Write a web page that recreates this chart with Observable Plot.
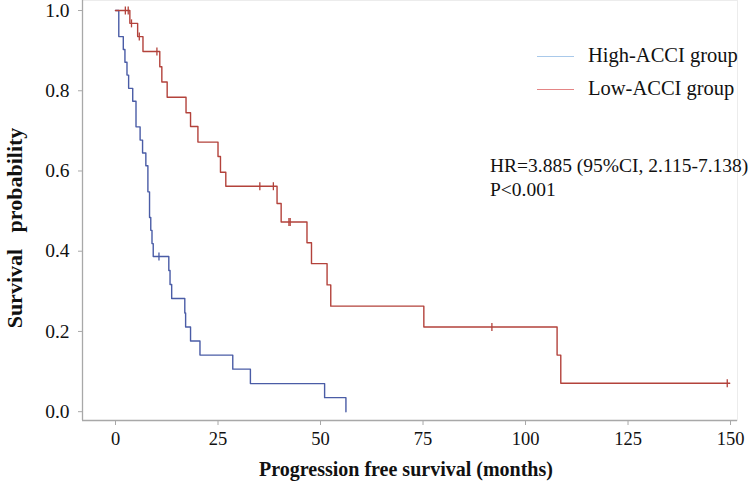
<!DOCTYPE html>
<html><head><meta charset="utf-8">
<script src="https://cdn.jsdelivr.net/npm/d3@7"></script>
<script src="https://cdn.jsdelivr.net/npm/@observablehq/plot@0.6"></script>
<style>
body{margin:0;background:#fff;}
#wrap{position:relative;width:750px;height:487px;font-family:"Liberation Serif","Times New Roman",serif;color:#111;}
.t{position:absolute;white-space:pre;font-size:19.5px;line-height:1;}
.ln{position:absolute;height:0;border-top:1.3px solid;}
</style></head><body>
<div id="wrap"></div>
<script>
// High-ACCI group: step times (months) and survival after each drop
const highTime = [0, 0.8, 1.9, 2.3, 2.8, 3.2, 4.2, 5.0, 6.0, 6.6, 7.4, 7.9, 8.3, 8.6, 8.9, 9.2, 13.0, 13.3, 13.7, 16.9, 17.1, 18.3, 20.6, 28.6, 32.9, 51.0, 56.2];
const highSurv = [1.0, 0.935, 0.903, 0.871, 0.839, 0.806, 0.774, 0.710, 0.677, 0.645, 0.613, 0.548, 0.484, 0.452, 0.419, 0.387, 0.352, 0.317, 0.282, 0.246, 0.211, 0.176, 0.141, 0.106, 0.070, 0.035, 0.0];
const highCensor = [10.6];

// Low-ACCI group
const lowTime = [0, 3.5, 5.4, 6.7, 10.8, 11.3, 12.6, 17.2, 18.3, 20.1, 25.0, 25.6, 26.9, 39.4, 40.4, 46.7, 47.8, 51.6, 52.5, 75.2, 107.7, 108.6, 149.8];
const lowSurv = [1.0, 0.968, 0.935, 0.898, 0.860, 0.822, 0.784, 0.745, 0.711, 0.672, 0.636, 0.597, 0.562, 0.519, 0.473, 0.421, 0.369, 0.316, 0.263, 0.211, 0.141, 0.071, 0.071];
const lowCensor = [2.4, 3.1, 3.9, 5.8, 10.1, 35.2, 38.5, 42.3, 42.6, 91.8, 149.2];

const xTicks = [0, 25, 50, 75, 100, 125, 150];
const yTicks = [0, 0.2, 0.4, 0.6, 0.8, 1.0];
const groups = ["High-ACCI group", "Low-ACCI group"];
const lineColors = ["#4a5ca6", "#b3423b"];
const legendColors = ["#a9c9ea", "#e48585"];
const hrLines = ["HR=3.885 (95%CI, 2.115-7.138)", "P<0.001"];
const xLabel = "Progression free survival (months)";
const yLabel = "Survival\u00a0\u00a0\u00a0probability";

const toRows = (ts, ss, g) => ts.map((t, i) => ({t, s: ss[i], g}));
const curves = [...toRows(highTime, highSurv, groups[0]), ...toRows(lowTime, lowSurv, groups[1])];
const survAt = (ts, ss, c) => ss[Math.max(0, d3.bisectRight(ts, c) - 1)];
const censors = [
  ...highCensor.map(t => ({t, s: survAt(highTime, highSurv, t), g: groups[0]})),
  ...lowCensor.map(t => ({t, s: survAt(lowTime, lowSurv, t), g: groups[1]}))
];
const vbar = {draw(ctx, size) { const h = Math.sqrt(size / Math.PI); ctx.moveTo(0, -h); ctx.lineTo(0, h); }};

const plot = Plot.plot({
  width: 750, height: 487,
  marginLeft: 82, marginRight: 13, marginTop: 0, marginBottom: 67,
  style: {fontFamily: "'Liberation Serif','Times New Roman',serif", fontSize: "18px", color: "#111", background: "#fff", overflow: "visible"},
  x: {domain: [-8.05, 151.7], label: null},
  y: {domain: [-0.022, 1.025], label: null},
  color: {domain: groups, range: lineColors},
  marks: [
    Plot.frame({stroke: "#ececec"}),
    Plot.ruleX([-8.05], {stroke: "#a8a8a8", strokeWidth: 1.3}),
    Plot.ruleY([-0.022], {stroke: "#a8a8a8", strokeWidth: 1.3}),
    Plot.axisX({ticks: xTicks, tickSize: 5, tickPadding: 6, fontSize: 18.5, label: null}),
    Plot.axisY({ticks: yTicks, tickSize: 4, tickPadding: 9, fontSize: 19.5, tickFormat: d3.format(".1f"), label: null}),
    Plot.line(curves, {x: "t", y: "s", z: "g", stroke: "g", curve: "step-after", strokeWidth: 1.4}),
    Plot.dot(censors, {x: "t", y: "s", stroke: "g", symbol: vbar, r: 4, strokeWidth: 1.3, fill: "none"})
  ]
});
plot.querySelectorAll('[aria-label="x-axis tick"], [aria-label="y-axis tick"]').forEach(g => g.setAttribute("stroke", "#a8a8a8"));

const wrap = document.getElementById("wrap");
wrap.appendChild(plot);

function addText(txt, x, y, extra) {
  const d = document.createElement("div");
  d.className = "t"; d.textContent = txt;
  d.style.left = x + "px"; d.style.top = y + "px";
  if (extra) Object.assign(d.style, extra);
  wrap.appendChild(d); return d;
}
// legend
groups.forEach((g, i) => {
  const l = document.createElement("div");
  l.className = "ln";
  l.style.left = "537px"; l.style.width = "37px"; l.style.top = (56 + i * 33) + "px";
  l.style.borderTopColor = legendColors[i];
  wrap.appendChild(l);
  addText(g, 588, 45 + i * 33, {fontSize: "20.5px"});
});
hrLines.forEach((h, i) => addText(h, 490, 156 + i * 24));
addText(xLabel, 406, 459, {fontWeight: "bold", fontSize: "20px", transform: "translateX(-50%)"});
addText(yLabel, 15, 228, {fontWeight: "bold", fontSize: "22px", transform: "translate(-50%,-50%) rotate(-90deg)"});
</script>
</body></html>
